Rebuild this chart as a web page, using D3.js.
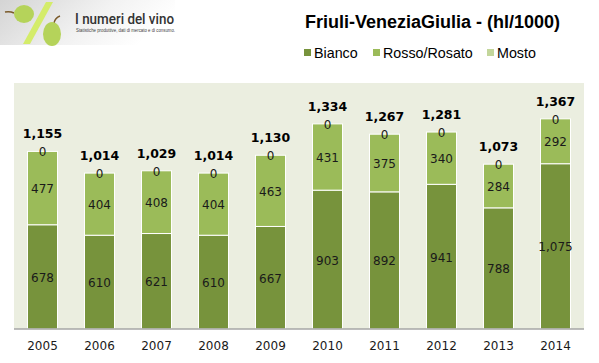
<!DOCTYPE html>
<html>
<head>
<meta charset="utf-8">
<script src="https://cdn.jsdelivr.net/npm/d3@7"></script>
<style>
  body { margin: 0; background: #fff; }
  svg { display: block; }
</style>
</head>
<body>
<div id="chart"></div>
<script>
// values (hl/1000)
const years = ["2005", "2006", "2007", "2008", "2009", "2010", "2011", "2012", "2013", "2014"];
const bianco = [678, 610, 621, 610, 667, 903, 892, 941, 788, 1075];
const rosso = [477, 404, 408, 404, 463, 431, 375, 340, 284, 292];
const mosto = [0, 0, 0, 0, 0, 0, 0, 0, 0, 0];
const totals = [1155, 1014, 1029, 1014, 1130, 1334, 1267, 1281, 1073, 1367];
const seriesNames = ["Bianco", "Rosso/Rosato", "Mosto"];

const W = 599, H = 363;
const conf = { ml: 14, mr: 15, mt: 83, mb: 34 };
const colors = { "Bianco": "#77933c", "Rosso/Rosato": "#9bbb59", "Mosto": "#c3d69b" };

const svg = d3.select("#chart").append("svg")
    .attr("width", W).attr("height", H)
    .attr("viewBox", [0, 0, W, H]);

// logo header
const defs = svg.append("defs");
const grad = defs.append("linearGradient").attr("id", "logoBg")
    .attr("x1", 0).attr("y1", 0).attr("x2", 1).attr("y2", 0.3);
grad.append("stop").attr("offset", "0%").attr("stop-color", "#d4d4d4");
grad.append("stop").attr("offset", "60%").attr("stop-color", "#f2f2f2");
grad.append("stop").attr("offset", "100%").attr("stop-color", "#ffffff");

const logo = svg.append("g").attr("class", "logo");
logo.append("rect").attr("x", 0).attr("y", 0).attr("width", 175).attr("height", 45).attr("fill", "url(#logoBg)");
logo.append("path").attr("d", "M5,12 Q10,11 14,13").attr("stroke", "#7a5a2a").attr("stroke-width", 1.5).attr("fill", "none");
logo.append("ellipse").attr("cx", 24).attr("cy", 14).attr("rx", 10).attr("ry", 9).attr("fill", "#b5d35a");
logo.append("path").attr("d", "M46,2 L53,2 L30,44 L23,44 Z").attr("fill", "#d4ec6a");
logo.append("path").attr("d", "M54,23 Q55,18 60,16").attr("stroke", "#7a5a2a").attr("stroke-width", 1.5).attr("fill", "none");
logo.append("ellipse").attr("cx", 52).attr("cy", 34).attr("rx", 9).attr("ry", 12).attr("fill", "#b5d35a");
logo.append("text").attr("x", 75).attr("y", 24)
    .attr("font-family", "Roboto, 'Liberation Sans', sans-serif")
    .attr("font-size", 15).attr("font-weight", 500).attr("fill", "#333")
    .attr("textLength", 99).attr("lengthAdjust", "spacingAndGlyphs")
    .text("I numeri del vino");
logo.append("text").attr("x", 76).attr("y", 32)
    .attr("font-family", "'Liberation Sans', sans-serif")
    .attr("font-size", 4.6).attr("fill", "#444")
    .attr("textLength", 99).attr("lengthAdjust", "spacingAndGlyphs")
    .text("Statistiche produttive, dati di mercato e di consumo.");

// title and legend
svg.append("text").attr("x", 305).attr("y", 28)
    .attr("font-family", "'Liberation Sans', Arial, sans-serif")
    .attr("font-size", 18).attr("font-weight", "bold").attr("fill", "#000")
    .text("Friuli-VeneziaGiulia - (hl/1000)");

const legendX = [304, 373, 487];
const legend = svg.append("g").selectAll("g").data(seriesNames).join("g")
    .attr("transform", (d, i) => `translate(${legendX[i]},53)`);
legend.append("rect").attr("x", 0).attr("y", -4).attr("width", 7).attr("height", 7)
    .attr("fill", d => colors[d]);
legend.append("text").attr("x", 10).attr("y", 5)
    .attr("font-family", "'Liberation Sans', Arial, sans-serif")
    .attr("font-size", 14.3).attr("fill", "#000")
    .text(d => d);

// scales
const x = d3.scaleBand().domain(years)
    .range([conf.ml, W - conf.mr])
    .paddingInner(0.474).paddingOuter(0.237);
const y = d3.scaleLinear().domain([0, 1600]).range([H - conf.mb, conf.mt]);

svg.append("rect").attr("x", conf.ml).attr("y", conf.mt)
    .attr("width", W - conf.mr - conf.ml).attr("height", H - conf.mb - conf.mt)
    .attr("fill", "#ebeee0");

const rows = years.map((yr, i) => ({ year: yr, "Bianco": bianco[i], "Rosso/Rosato": rosso[i], "Mosto": mosto[i] }));
const stack = d3.stack().keys(seriesNames)(rows);

const layers = svg.append("g").selectAll("g").data(stack).join("g")
    .attr("fill", d => colors[d.key]);
layers.selectAll("rect").data(d => d).join("rect")
    .attr("x", d => x(d.data.year))
    .attr("y", d => y(d[1]))
    .attr("width", x.bandwidth())
    .attr("height", d => y(d[0]) - y(d[1]))
    .attr("stroke", "#fff").attr("stroke-width", 1);

// segment labels
const labelFont = "'DejaVu Sans', Verdana, sans-serif";
svg.append("g").selectAll("g").data(stack).join("g")
    .selectAll("text").data(d => d.map(v => Object.assign(v, { key: d.key }))).join("text")
    .attr("x", d => x(d.data.year) + x.bandwidth() / 2)
    .attr("y", d => (y(d[0]) + y(d[1])) / 2 + 5)
    .attr("text-anchor", "middle")
    .attr("font-family", labelFont).attr("font-size", 12).attr("fill", "#1a1a1a")
    .text(d => d3.format(",")(d.data[d.key]));

// totals
svg.append("g").selectAll("text").data(years).join("text")
    .attr("x", d => x(d) + x.bandwidth() / 2)
    .attr("y", (d, i) => y(bianco[i] + rosso[i] + mosto[i]) - 13)
    .attr("text-anchor", "middle")
    .attr("font-family", labelFont).attr("font-size", 12.5).attr("font-weight", "bold").attr("fill", "#000")
    .text((d, i) => d3.format(",")(totals[i]));

// x axis
const xAxis = svg.append("g").attr("class", "xAxes")
    .attr("transform", `translate(0,${H - conf.mb})`)
    .call(d3.axisBottom(x).tickSize(0).tickPadding(12));
xAxis.select(".domain").attr("stroke", "#a6a6a6").attr("stroke-width", 1.5)
    .attr("d", `M${conf.ml},0H${W - conf.mr}`);
xAxis.selectAll("text").attr("font-family", labelFont).attr("font-size", 12).attr("fill", "#1a1a1a");
</script>
</body>
</html>
